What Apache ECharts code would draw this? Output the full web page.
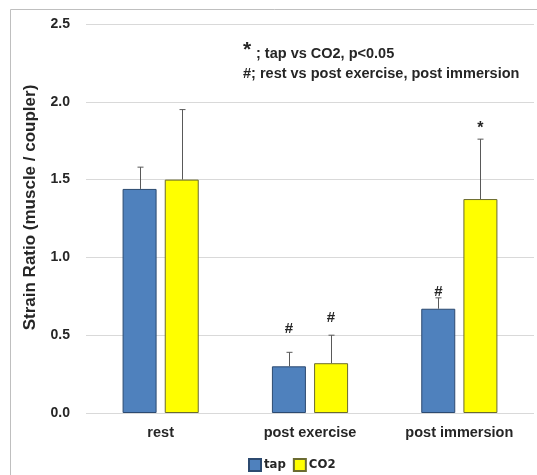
<!DOCTYPE html>
<html><head><meta charset="utf-8">
<script src="https://cdn.jsdelivr.net/npm/echarts@6/dist/echarts.min.js"></script>
<style>html,body{margin:0;padding:0;background:#fff}#c{width:537px;height:475px}</style>
</head><body><div id="c"></div>
<script>
const categories = ['rest', 'post exercise', 'post immersion'];
const seriesNames = ['tap', 'CO2'];
const tapValues = [1.44, 0.30, 0.67];
const tapErrors = [0.14, 0.09, 0.07];
const co2Values = [1.50, 0.32, 1.375];
const co2Errors = [0.45, 0.18, 0.385];
const yTicks = [0, 0.5, 1.0, 1.5, 2.0, 2.5];
// annotation markers: [categoryIndex, seriesIndex, symbol, yValue]
const markers = [[1, 0, '#', 0.54], [1, 1, '#', 0.61], [2, 0, '#', 0.78], [2, 1, '*', 1.83]];
const noteLine1 = '; tap vs CO2, p<0.05';
const noteLine2 = '#; rest vs post exercise, post immersion';

const FONT = '"Liberation Sans", Arial, sans-serif';
const OFFSET = 21;

function errSeries(name, vals, errs, sign) {
  return {
    type: 'custom', name: name + '_err', silent: true, z: 5,
    data: vals.map((v, i) => [i, v, errs[i]]),
    renderItem: function (params, api) {
      const i = api.value(0), v = api.value(1), e = api.value(2);
      const p0 = api.coord([i, v]);
      const p1 = api.coord([i, v + e]);
      const x = Math.round(p0[0] + sign * OFFSET) + 0.5;
      return {
        type: 'group', children: [
          { type: 'line', shape: { x1: x, y1: p0[1], x2: x, y2: p1[1] }, style: { stroke: '#595959', lineWidth: 1 } },
          { type: 'line', shape: { x1: x - 3, y1: p1[1], x2: x + 3, y2: p1[1] }, style: { stroke: '#595959', lineWidth: 1 } }
        ]
      };
    }
  };
}

const chart = echarts.init(document.getElementById('c'));
chart.setOption({
  animation: false,
  backgroundColor: '#fff',
  grid: { left: 86, right: 3, top: 24, bottom: 62 },
  legend: {
    data: seriesNames, left: 243, top: 453, itemWidth: 12, itemHeight: 12, itemGap: 7,
    icon: 'rect',
    textStyle: { fontFamily: '"Liberation Sans Narrow", "DejaVu Sans Condensed", sans-serif', fontWeight: 'bold', fontSize: 13, color: '#262626', padding: [0, 0, 0, -2] }
  },
  xAxis: {
    type: 'category', data: categories,
    axisLine: { show: false }, axisTick: { show: false },
    axisLabel: { fontFamily: FONT, fontWeight: 'bold', fontSize: 14.5, color: '#262626', margin: 12 }
  },
  yAxis: {
    type: 'value', min: 0, max: 2.5, interval: 0.5,
    name: 'Strain Ratio (muscle / coupler)', nameLocation: 'middle', nameGap: 47,
    nameTextStyle: { fontFamily: FONT, fontWeight: 'bold', fontSize: 17, color: '#262626', padding: [0, 0, 0, 22] },
    axisLine: { show: false }, axisTick: { show: false },
    splitLine: { lineStyle: { color: '#D9D9D9' } },
    axisLabel: { fontFamily: FONT, fontWeight: 'bold', fontSize: 14, color: '#262626', margin: 16,
      formatter: v => yTicks.includes(v) ? v.toFixed(1) : '' }
  },
  series: [
    { type: 'bar', name: seriesNames[0], data: tapValues, barWidth: 34, barGap: '24%',
      itemStyle: { color: '#4F81BD', borderColor: '#2C4A70', borderWidth: 1 } },
    { type: 'bar', name: seriesNames[1], data: co2Values, barWidth: 34,
      itemStyle: { color: '#FFFF00', borderColor: '#6B6B30', borderWidth: 1 } },
    errSeries('tap', tapValues, tapErrors, -1),
    errSeries('CO2', co2Values, co2Errors, 1),
    {
      type: 'custom', name: 'markers', silent: true, z: 6,
      data: markers,
      renderItem: function (params, api) {
        const i = api.value(0), s = api.value(1), y = api.value(3);
        const sym = markers[params.dataIndex][2];
        const p = api.coord([i, y]);
        return { type: 'text', x: p[0] + (s === 0 ? -OFFSET : OFFSET), y: p[1],
          style: { text: sym, fontFamily: FONT, fontWeight: 'bold', fontSize: sym === '*' ? 16 : 15,
            fill: '#262626', align: 'center', verticalAlign: 'middle' } };
      }
    }
  ],
  graphic: [
    { type: 'rect', shape: { x: 10.5, y: 9.5, width: 600, height: 600 }, style: { fill: null, stroke: '#BFBFBF', lineWidth: 1 }, silent: true },
    { type: 'text', x: 243, y: 50, style: { text: '*', fontFamily: FONT, fontWeight: 'bold', fontSize: 21, fill: '#262626', verticalAlign: 'middle' } },
    { type: 'text', x: 256, y: 54, style: { text: noteLine1, fontFamily: FONT, fontWeight: 'bold', fontSize: 14.5, fill: '#262626', verticalAlign: 'middle' } },
    { type: 'text', x: 243, y: 74, style: { text: noteLine2, fontFamily: FONT, fontWeight: 'bold', fontSize: 14.5, fill: '#262626', verticalAlign: 'middle' } }
  ]
});
</script></body></html>
